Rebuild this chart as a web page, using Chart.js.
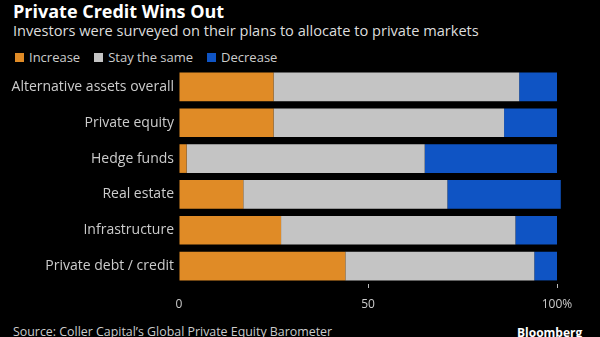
<!DOCTYPE html>
<html lang="en">
<head>
    <meta charset="UTF-8">
    <title>Private Credit Wins Out</title>
    <script src="https://cdn.jsdelivr.net/npm/chart.js"></script>
    <style>
        html, body { margin: 0; padding: 0; background: #000; }
        body { width: 600px; height: 337px; position: relative; overflow: hidden; font-family: "Open Sans", sans-serif; }
        .txt { position: absolute; white-space: nowrap; }
        #title { left: 13px; top: -1px; font-size: 18px; font-weight: bold; color: #fff; }
        #subtitle { left: 13px; top: 19.5px; font-size: 14.6px; color: #ddd; }
        #legend { left: 15px; top: 48px; font-size: 13px; color: #ccc; }
        #legend span.box { display: inline-block; width: 9px; height: 9px; margin-right: 5px; vertical-align: 0; }
        #legend span.item { margin-right: 14px; }
        #source { left: 13px; top: 323px; font-size: 12.4px; color: #ccc; }
        #brand { left: 517px; top: 323.5px; font-size: 12px; font-weight: bold; color: #fff; }
        #chart { position: absolute; left: 0; top: 0; }
    </style>
</head>
<body>
    <div class="txt" id="title">Private Credit Wins Out</div>
    <div class="txt" id="subtitle">Investors were surveyed on their plans to allocate to private markets</div>
    <div class="txt" id="legend"></div>
    <div class="txt" id="source">Source: Coller Capital’s Global Private Equity Barometer</div>
    <div class="txt" id="brand">Bloomberg</div>
    <canvas id="chart" width="600" height="337"></canvas>

    <script>
        // Asset classes and survey answers (% of investors)
        const categories = ["Alternative assets overall", "Private equity", "Hedge funds", "Real estate", "Infrastructure", "Private debt / credit"];
        const increase = [25, 25, 2, 17, 27, 44];
        const staySame = [65, 61, 63, 54, 62, 50];
        const decrease = [10, 14, 35, 30, 11, 6];
        const seriesNames = ["Increase", "Stay the same", "Decrease"];
        const seriesColors = ["#e08b26", "#c4c4c4", "#0f54c4"];
        const xTicks = [0, 50, 100];

        // legend above the chart
        const legend = document.getElementById("legend");
        seriesNames.forEach((name, i) => {
            legend.innerHTML += `<span class="item"><span class="box" style="background:${seriesColors[i]}"></span>${name}</span>`;
        });

        const ctx = document.getElementById("chart").getContext("2d");
        new Chart(ctx, {
            type: "bar",
            data: {
                labels: categories,
                datasets: [increase, staySame, decrease].map((d, i) => ({
                    label: seriesNames[i],
                    data: d,
                    backgroundColor: seriesColors[i],
                    borderWidth: 0,
                    barPercentage: 0.8,
                    categoryPercentage: 1,
                    clip: false
                }))
            },
            options: {
                indexAxis: "y",
                responsive: false,
                animation: false,
                events: [],
                layout: { padding: { top: 69, bottom: 13, left: 0, right: 43 } },
                plugins: { legend: { display: false }, tooltip: { enabled: false } },
                scales: {
                    x: {
                        stacked: true,
                        min: 0,
                        max: 100,
                        afterBuildTicks: (axis) => { axis.ticks = xTicks.map(v => ({ value: v })); },
                        afterFit: (axis) => { axis.height = 40; },
                        border: { display: false },
                        grid: {
                            drawOnChartArea: false,
                            drawTicks: true,
                            tickLength: 4,
                            color: (c) => c.tick && c.tick.value === 0 ? "rgba(0,0,0,0)" : "#bbb"
                        },
                        ticks: {
                            padding: 9,
                            color: "#ccc",
                            font: { family: "Open Sans", size: 12 },
                            maxRotation: 0,
                            callback: (v) => v === 100 ? "100%" : v
                        }
                    },
                    y: {
                        stacked: true,
                        afterFit: (axis) => { axis.width = 179; },
                        border: { display: false },
                        grid: { display: false, drawTicks: false },
                        ticks: {
                            padding: 5,
                            color: "#ccc",
                            font: { family: "Open Sans", size: 14 }
                        }
                    }
                }
            }
        });
    </script>
</body>
</html>
